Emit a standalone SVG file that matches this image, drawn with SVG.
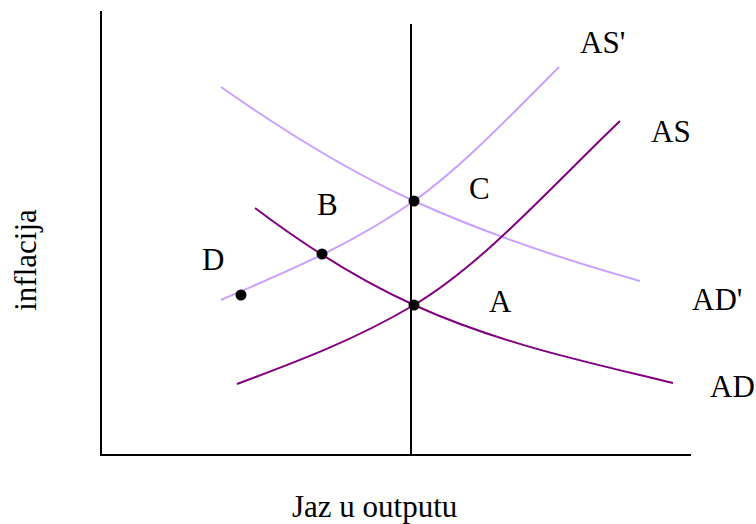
<svg xmlns="http://www.w3.org/2000/svg" width="756" height="524" viewBox="0 0 756 524">
<style>
.ax{stroke:#000;stroke-width:2;fill:none}
.lt{stroke:#C8A0FF;stroke-width:2;fill:none}
.dk{stroke:#800080;stroke-width:2;fill:none}
.t{font-family:"Liberation Serif","Times New Roman",serif;font-size:31px;fill:#000}
.pt{fill:#000}
</style>
<rect width="756" height="524" fill="#fff"/>
<g id="axes">
<path class="ax" d="M101,11 V455 H691"/>
<path class="ax" d="M411,24 V455"/>
</g>
<g id="connectors">
<path id="ADp" class="lt" d="M221,87 C285,132 350,172 414,201 C489,235 565,260 640,281"/>
<path id="ASp" class="lt" d="M221,300 C285,272 350,246 414,201 C462,167 511,115 559,67"/>
<path id="AD" class="dk" d="M255,208 C308,248 361,281 414,305 C500,344 587,362 673,383"/>
<path id="AS" class="dk" d="M237,384 C296,362 355,340 414,305 C483,264 551,187 620,121"/>
</g>
<g id="points">
<circle class="pt" cx="414" cy="201" r="5.5"/>
<circle class="pt" cx="322" cy="254" r="5.5"/>
<circle class="pt" cx="414" cy="305" r="5.5"/>
<circle class="pt" cx="241" cy="295" r="5.5"/>
</g>
<g id="labels">
<text class="t" x="580" y="53">AS'</text>
<text class="t" x="651" y="142">AS</text>
<text class="t" x="469" y="199">C</text>
<text class="t" x="317" y="215">B</text>
<text class="t" x="202" y="270">D</text>
<text class="t" x="489" y="312">A</text>
<text class="t" x="692" y="310">AD'</text>
<text class="t" x="710" y="397">AD</text>
<text class="t" x="292" y="517">Jaz u outputu</text>
<text class="t" transform="translate(36,260) rotate(-90)" text-anchor="middle">inflacija</text>
</g>
</svg>
